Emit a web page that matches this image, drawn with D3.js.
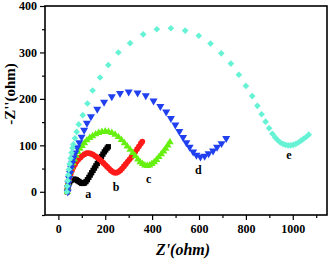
<!DOCTYPE html>
<html>
<head>
<meta charset="utf-8">
<script src="https://cdn.jsdelivr.net/npm/d3@7"></script>
<style>
  body { margin: 0; background: #fff; }
  svg { display: block; }
  .tick-label { font: bold 12px "Liberation Serif", serif; fill: #000; }
  .axis-title { font: bold 15px "Liberation Serif", serif; fill: #000; }
  .curve-label { font: bold 12px "Liberation Serif", serif; fill: #000; }
</style>
</head>
<body>
<div id="chart"></div>
<script>
// Nyquist plots, [Z', -Z''] in ohm
const seriesA = [[38,0],[39,6],[41,12],[44,17],[48,21],[53,24],[58,26],[64,27],[70,27],[76,26],[82,24],[88,22],[94,20],[100,18],[106,18],[112,19],[118,22],[124,26],[130,31],[136,36],[142,41],[148,46],[154,51],[160,56],[166,61],[172,66],[178,71],[184,76],[190,81],[196,86],[202,90],[208,94],[213,97]];
const seriesB = [[38,0],[39,7],[41,15],[44,23],[48,31],[53,39],[58,46],[64,53],[71,59],[78,65],[86,70],[94,74],[103,78],[112,81],[121,83],[130,83],[139,82],[148,80],[157,77],[166,74],[175,70],[184,66],[192,62],[200,58],[208,54],[216,50],[224,46],[232,43],[240,41],[248,41],[256,43],[264,46],[272,50],[280,55],[288,60],[296,65],[304,70],[312,75],[320,80],[328,86],[336,92],[344,98],[352,104],[358,108]];
const seriesC = [[38,0],[39,8],[41,17],[44,26],[47,35],[51,44],[56,53],[62,62],[68,70],[75,78],[83,86],[92,93],[101,99],[111,105],[122,111],[134,116],[146,120],[159,124],[172,127],[186,129],[200,130],[214,129],[228,127],[242,123],[256,118],[269,112],[282,105],[294,98],[306,91],[317,84],[328,77],[339,70],[349,64],[359,60],[369,57],[379,56],[389,57],[399,60],[409,64],[419,69],[429,75],[439,81],[449,87],[458,93],[467,100],[476,107]];
const seriesD = [[40,0],[41,9],[43,19],[46,29],[50,40],[54,51],[59,62],[65,73],[72,84],[80,95],[89,106],[99,118],[110,133],[122,148],[139,162],[166,178],[195,193],[228,205],[263,212],[300,215],[338,213],[373,207],[406,196],[435,184],[460,172],[480,158],[499,144],[516,130],[532,117],[546,106],[560,96],[575,86],[589,79],[606,75],[624,77],[641,82],[660,88],[677,96],[696,104],[716,115]];
const seriesE = [[36,0],[38,12],[40,24],[42,36],[45,48],[48,60],[52,72],[56,84],[60,94],[64,102],[71,115],[78,129],[87,145],[104,165],[124,190],[146,218],[178,246],[213,273],[256,300],[306,320],[362,339],[420,350],[480,352],[541,347],[599,336],[649,319],[695,298],[736,276],[770,252],[800,228],[827,206],[849,185],[867,167],[884,151],[899,137],[913,125],[925,117],[936,111],[947,106],[958,103],[969,101],[980,100],[991,100],[1002,101],[1013,103],[1024,106],[1035,110],[1046,114],[1057,118],[1068,123]];

const curveNames = ['a', 'b', 'c', 'd', 'e'];
const labelX = [128, 246, 385, 597, 984];
const labelY = [-5, 10, 27, 47, 79];

const xTicks = [0, 200, 400, 600, 800, 1000];
const yTicks = [0, 100, 200, 300, 400];

const width = 332, height = 260;
const margin = {top: 6, right: 5, bottom: 45, left: 45};
const plotW = width - margin.left - margin.right;
const plotH = height - margin.top - margin.bottom;

const svg = d3.select('#chart').append('svg')
  .attr('width', width)
  .attr('height', height);

const g = svg.append('g')
  .attr('transform', 'translate(' + margin.left + ',' + margin.top + ')');

const x = d3.scaleLinear().domain([-57, 1146]).range([0, plotW]);
const y = d3.scaleLinear().domain([-50, 400]).range([plotH, 0]);

// axes: majors with labels, minors without
function drawAxis(axisGen, cls) {
  const a = g.append('g').attr('class', cls).call(axisGen);
  a.select('.domain').remove();
  a.selectAll('line').attr('stroke', '#000').attr('stroke-width', 1.2);
  a.selectAll('text').attr('class', 'tick-label');
  return a;
}

drawAxis(d3.axisBottom(x).tickValues(xTicks).tickSize(5).tickPadding(4).tickFormat(d3.format('d')), 'x-axis')
  .attr('transform', 'translate(0,' + plotH + ')');
drawAxis(d3.axisBottom(x).tickValues(d3.range(100, 1101, 200)).tickSize(3).tickFormat(''), 'x-minor')
  .attr('transform', 'translate(0,' + plotH + ')');
drawAxis(d3.axisLeft(y).tickValues(yTicks).tickSize(5).tickPadding(3), 'y-axis');
drawAxis(d3.axisLeft(y).tickValues(d3.range(-50, 351, 100)).tickSize(3).tickFormat(''), 'y-minor');

// frame
g.append('rect')
  .attr('width', plotW)
  .attr('height', plotH)
  .attr('fill', 'none')
  .attr('stroke', '#000')
  .attr('stroke-width', 1.6);

const seriesList = [
  {data: seriesA, color: '#000000', type: d3.symbolSquare, size: 28, rot: 0},
  {data: seriesB, color: '#ff1a1a', type: d3.symbolCircle, size: 26, rot: 0},
  {data: seriesC, color: '#66f010', type: d3.symbolTriangle, size: 24, rot: 0},
  {data: seriesD, color: '#2040f0', type: d3.symbolTriangle, size: 28, rot: 180},
  {data: seriesE, color: '#66f2d4', type: d3.symbolSquare, size: 22, rot: 45}
];

seriesList.forEach(function(s) {
  const sym = d3.symbol().type(s.type).size(s.size);
  g.append('g').selectAll('path')
    .data(s.data)
    .enter().append('path')
    .attr('d', sym)
    .attr('fill', s.color)
    .attr('transform', function(d) {
      return 'translate(' + x(d[0]) + ',' + y(d[1]) + ') rotate(' + s.rot + ')';
    });
});

g.selectAll('.curve-label')
  .data(curveNames)
  .enter().append('text')
  .attr('class', 'curve-label')
  .attr('x', function(d, i) { return x(labelX[i]); })
  .attr('y', function(d, i) { return y(labelY[i]); })
  .attr('dy', '0.35em')
  .attr('text-anchor', 'middle')
  .text(function(d) { return d; });

svg.append('text')
  .attr('class', 'axis-title')
  .attr('transform', 'translate(15,94) rotate(-90)')
  .attr('text-anchor', 'middle')
  .text("-Z''(ohm)");

svg.append('text')
  .attr('class', 'axis-title')
  .attr('x', 183)
  .attr('y', 255)
  .attr('text-anchor', 'middle')
  .style('font-style', 'italic')
  .style('font-size', '16px')
  .text("Z'(ohm)");
</script>
</body>
</html>
